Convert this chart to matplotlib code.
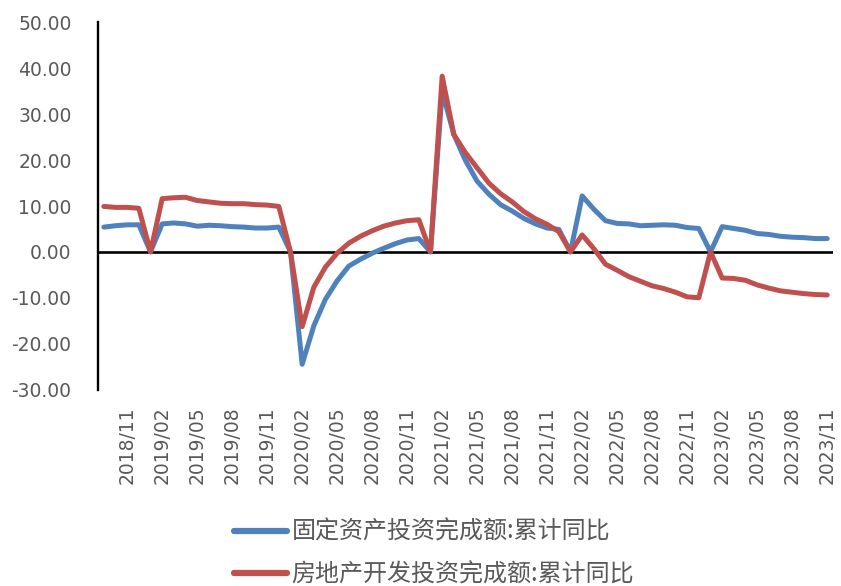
import numpy as np
import pandas as pd
import matplotlib
matplotlib.use("Agg")
import matplotlib.pyplot as plt
from matplotlib.lines import Line2D

plt.rcParams['font.family'] = ['Noto Sans CJK SC', 'DejaVu Sans']

# monthly, 2018/09 .. 2023/11 (January shown as 0)
months = [p.strftime("%Y/%m") for p in pd.period_range("2018-09", "2023-11", freq="M")]

fai_yoy = [5.4, 5.7, 5.9, 5.9,
           0, 6.1, 6.3, 6.1, 5.6, 5.8, 5.7, 5.5, 5.4, 5.2, 5.2, 5.4,
           0, -24.5, -16.1, -10.3, -6.3, -3.1, -1.6, -0.3, 0.8, 1.8, 2.6, 2.9,
           0, 35.0, 25.6, 19.9, 15.4, 12.6, 10.3, 8.9, 7.3, 6.1, 5.2, 4.9,
           0, 12.2, 9.3, 6.8, 6.2, 6.1, 5.7, 5.8, 5.9, 5.8, 5.3, 5.1,
           0, 5.5, 5.1, 4.7, 4.0, 3.8, 3.4, 3.2, 3.1, 2.9, 2.9]
re_yoy = [9.9, 9.7, 9.7, 9.5,
          0, 11.6, 11.8, 11.9, 11.2, 10.9, 10.6, 10.5, 10.5, 10.3, 10.2, 9.9,
          0, -16.3, -7.7, -3.3, -0.3, 1.9, 3.4, 4.6, 5.6, 6.3, 6.8, 7.0,
          0, 38.3, 25.6, 21.6, 18.3, 15.0, 12.7, 10.9, 8.8, 7.2, 6.0, 4.4,
          0, 3.7, 0.7, -2.7, -4.0, -5.4, -6.4, -7.4, -8.0, -8.8, -9.8, -10.0,
          0, -5.7, -5.8, -6.2, -7.2, -7.9, -8.5, -8.8, -9.1, -9.3, -9.4]

labels = ["固定资产投资完成额:累计同比", "房地产开发投资完成额:累计同比"]
colors = ["#4F81BD", "#C0504D"]
yticks = np.arange(-30, 51, 10)

W, H = 841, 586
fig = plt.figure(figsize=(W / 100, H / 100), dpi=100)
ax = fig.add_axes([98 / W, 1 - 389.5 / H, (833 - 98) / W, (389.5 - 22.5) / H])

x = np.arange(len(months))
ax.plot(x, fai_yoy, color=colors[0], lw=3.6, solid_joinstyle="round", solid_capstyle="round")
ax.plot(x, re_yoy, color=colors[1], lw=3.6, solid_joinstyle="round", solid_capstyle="round")
ax.axhline(0, color="black", lw=1.9, zorder=1)

ax.set_xlim(-0.5, len(months) - 0.5)
ax.set_ylim(-30, 50)
ax.set_yticks(yticks)
ax.set_yticklabels([f"{v:.2f}" for v in yticks], fontsize=13.5, color="#595959",
                   family="DejaVu Sans")
tick_idx = list(range(months.index("2018/11"), len(months), 3))
ax.set_xticks(tick_idx)
ax.set_xticklabels([months[i] for i in tick_idx], rotation=90, fontsize=13.5,
                   color="#595959", family="DejaVu Sans")
ax.tick_params(axis="y", length=0, pad=19)
ax.tick_params(axis="x", length=0, pad=12)

for s in ["top", "right", "bottom"]:
    ax.spines[s].set_visible(False)
ax.spines["left"].set_linewidth(1.7)

handles = [Line2D([], [], color=c, lw=4.5, solid_capstyle="round") for c in colors]
fig.legend(handles, labels, loc="upper left", bbox_to_anchor=(222 / W, 1 - 507 / H),
           frameon=False, fontsize=17.3, handlelength=2.2, handletextpad=0.2,
           labelspacing=0.68, borderpad=0, labelcolor="#595959")

fig.savefig("out.png", dpi=100)
